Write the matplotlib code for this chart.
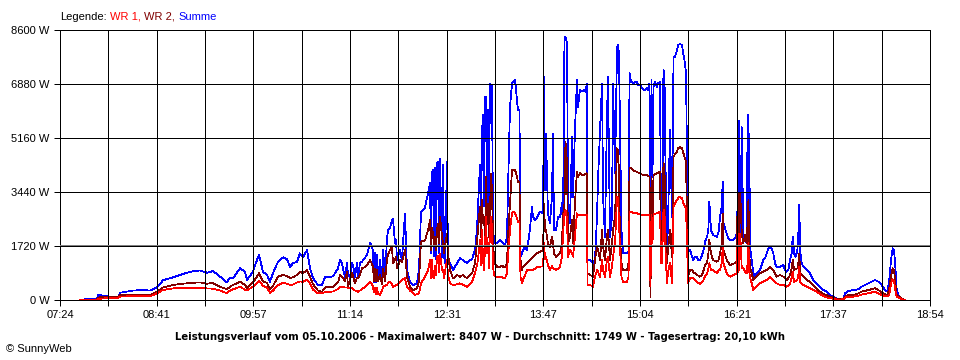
import numpy as np
import matplotlib.pyplot as plt

# time of each sample in minutes after midnight, power in W
t_min = [
    459.9, 465.4, 473.3, 474.1, 475.7, 482.1, 483.7, 490.0, 491.6, 501.9,
    509.8, 515.4, 520.9, 525.7, 533.6, 541.6, 549.5, 555.0, 560.6, 565.3,
    569.3, 572.5, 576.4, 578.8, 581.2, 586.8, 590.7, 592.3, 597.1, 598.7,
    601.8, 605.0, 608.2, 610.5, 612.9, 616.9, 620.9, 624.0, 626.4, 628.8,
    632.0, 634.3, 636.7, 639.9, 642.3, 644.7, 648.6, 651.8, 654.2, 660.5,
    664.5, 666.1, 667.7, 668.4, 670.0, 671.6, 672.4, 674.0, 675.6, 676.4,
    678.0, 679.5, 680.3, 681.9, 683.5, 685.9, 687.5, 689.9, 691.4, 692.2,
    693.0, 693.8, 694.6, 695.4, 696.2, 697.8, 699.4, 700.2, 701.8, 703.3,
    704.1, 705.7, 707.3, 708.1, 709.7, 710.5, 711.3, 713.7, 715.2, 717.6,
    719.2, 721.6, 724.0, 725.6, 727.1, 728.7, 730.3, 731.9, 733.5, 735.9,
    737.5, 738.2, 739.0, 739.8, 740.6, 741.4, 742.2, 743.0, 743.8, 744.6,
    745.4, 747.0, 747.8, 748.6, 749.3, 750.9, 751.7, 753.3, 755.7, 758.9,
    761.2, 763.6, 766.8, 769.2, 770.8, 773.1, 774.7, 775.5, 777.1, 777.9,
    778.7, 779.5, 780.3, 781.1, 781.9, 782.7, 783.5, 784.2, 785.0, 785.8,
    786.6, 787.4, 788.2, 789.0, 790.6, 793.0, 794.6, 795.4, 796.9, 798.5,
    799.3, 800.9, 802.5, 803.3, 804.9, 806.4, 807.2, 808.4, 809.2, 810.4,
    811.2, 812.8, 814.4, 815.2, 816.8, 818.3, 819.1, 820.7, 822.3, 823.1,
    824.7, 826.3, 827.1, 827.9, 828.7, 829.4, 831.0, 832.6, 834.2, 835.0,
    835.8, 837.4, 839.0, 840.6, 842.1, 842.9, 844.1, 844.9, 846.1, 846.9,
    848.5, 850.1, 850.9, 852.4, 854.0, 854.8, 856.4, 858.0, 859.6, 860.4,
    862.0, 862.4, 864.4, 866.7, 868.3, 869.9, 870.7, 872.3, 873.9, 874.7,
    876.2, 877.8, 878.6, 880.2, 881.8, 882.6, 884.2, 885.8, 886.6, 887.3,
    888.1, 889.3, 890.5, 893.7, 894.9, 895.7, 896.9, 898.5, 900.0, 901.6,
    902.4, 904.0, 905.6, 906.4, 908.0, 909.6, 910.4, 911.5, 912.3, 913.1,
    913.9, 914.7, 915.9, 917.5, 918.3, 919.9, 920.7, 921.5, 922.6, 923.4,
    924.2, 925.4, 926.2, 927.8, 929.4, 930.6, 931.8, 933.4, 934.2, 935.7,
    937.3, 938.5, 939.7, 940.5, 941.3, 942.1, 943.7, 945.3, 946.0, 947.6,
    949.2, 950.0, 951.6, 953.2, 954.4, 955.6, 957.2, 958.2, 959.0, 960.3,
    961.9, 965.1, 966.3, 967.5, 968.8, 969.6, 970.2, 972.8, 974.0, 975.4,
    978.0, 979.3, 980.7, 981.5, 982.1, 982.7, 983.5, 984.7, 985.9, 987.3,
    988.6, 989.4, 990.0, 990.7, 991.2, 992.6, 993.9, 995.2, 996.5, 999.2,
    1001.8, 1003.1, 1004.5, 1005.8, 1007.1, 1008.4, 1009.7, 1011.1, 1012.4, 1015.0,
    1017.7, 1019.0, 1020.4, 1021.6, 1023.0, 1024.3, 1025.1, 1026.2, 1027.5, 1028.8,
    1029.6, 1030.4, 1030.9, 1032.3, 1033.5, 1036.2, 1038.8, 1041.5, 1044.2, 1046.8,
    1049.4, 1052.1, 1054.7, 1057.3, 1060.0, 1062.6, 1065.3, 1066.6, 1069.2, 1073.2,
    1077.1, 1079.8, 1082.5, 1085.1, 1087.8, 1090.4, 1093.0, 1095.7, 1098.3, 1100.1,
    1101.7, 1103.1, 1104.4, 1105.5, 1106.5, 1107.6, 1108.9, 1111.6, 1114.2]

summe = [
    0, 30, 30, 160, 150, 130, 90, 90, 230, 300,
    320, 300, 400, 630, 720, 830, 920, 940, 870, 920,
    800, 690, 560, 720, 690, 1010, 900, 640, 900, 1115,
    1433, 900, 796, 584, 849, 1221, 1359, 1300, 1062, 1168,
    1221, 1486, 1360, 1592, 1009, 690, 478, 478, 722, 750,
    1009, 1274, 1168, 1009, 743, 1168, 790, 743, 1168, 1100,
    743, 1168, 700, 1168, 1220, 1350, 1433, 1826, 1700, 1550,
    580, 1500, 580, 1450, 600, 1274, 580, 1600, 740, 1911,
    2230, 2300, 2548, 2580, 1800, 1900, 1270, 1600, 1270, 2760,
    955, 584, 478, 500, 520, 955, 2813, 2850, 2950, 3408,
    3716, 1500, 4035, 4150, 1400, 4200, 1300, 4353, 4400, 1500,
    4512, 1380, 4300, 1400, 1170, 4400, 1380, 1170, 955, 1170,
    1327, 1274, 1170, 1274, 1300, 1590, 2230, 2970, 4300, 2200,
    5362, 5892, 3000, 6476, 6476, 2500, 6052, 3000, 6900, 6850,
    6850, 2500, 1805, 1805, 1805, 1911, 1830, 1805, 1752, 2017,
    3504, 6158, 6900, 6954, 7007, 6370, 6052, 6052, 1380, 1486,
    1592, 1699, 1592, 1805, 2282, 2973, 2654, 2548, 2601, 2707,
    2814, 2760, 2814, 7113, 3500, 5308, 2760, 2442, 3291, 5308,
    2230, 2230, 2654, 2654, 3079, 2230, 8281, 8387, 8175, 3291,
    2442, 5202, 3291, 5415, 7007, 6158, 6689, 6636, 6689, 6636,
    6900, 1274, 1274, 1168, 1274, 2654, 3822, 5415, 6900, 3291,
    2017, 5839, 7113, 2017, 2654, 6900, 4034, 8068, 8122, 7856,
    5627, 2230, 1486, 1486, 1540, 7240, 6954, 6900, 6954, 6954,
    6848, 6848, 6742, 6710, 6689, 6742, 6689, 6900, 1805, 7007,
    3928, 6795, 6954, 6795, 6900, 6954, 1805, 1805, 7326, 7220,
    4353, 1592, 2442, 5415, 2654, 7750, 7750, 7963, 8122, 8153,
    8122, 7803, 7538, 7220, 4353, 1592, 1592, 1380, 1274, 1380,
    1380, 1274, 1274, 1433, 1592, 1858, 2017, 2230, 3132, 2230,
    2070, 2017, 2176, 2654, 2973, 3769, 2442, 2123, 1965, 1911,
    1911, 1965, 2123, 3185, 2000, 5700, 1805, 5500, 2123, 1911,
    1805, 5900, 2000, 5300, 1699, 1274, 849, 743, 849, 955,
    1274, 1327, 1486, 1645, 1699, 1645, 1486, 1168, 1062, 1062,
    1115, 955, 902, 955, 1274, 1486, 2017, 1486, 1380, 1592,
    2123, 3026, 1592, 1168, 1062, 955, 849, 637, 531, 425,
    318, 265, 159, 106, 53, 21, 53, 212, 287, 318,
    340, 425, 478, 531, 584, 637, 584, 478, 318, 265,
    637, 1274, 1645, 1592, 1062, 318, 159, 53, 0]

wr2 = [
    0, 0, 20, 80, 85, 100, 90, 100, 150, 160,
    160, 160, 260, 400, 480, 520, 550, 560, 520, 540,
    450, 400, 340, 420, 480, 580, 480, 370, 560, 650,
    850, 600, 540, 340, 450, 740, 800, 760, 700, 720,
    800, 900, 850, 955, 740, 500, 300, 265, 400, 420,
    560, 796, 740, 700, 600, 900, 425, 650, 850, 760,
    530, 720, 700, 800, 1009, 1050, 1100, 1274, 1150, 1060,
    600, 1000, 600, 950, 600, 800, 500, 1000, 600, 1274,
    1450, 1592, 1700, 1170, 1300, 1380, 1000, 1274, 1200, 1592,
    743, 425, 318, 340, 370, 600, 1858, 1880, 1900, 2230,
    2548, 1600, 2300, 2120, 1700, 2000, 1600, 2230, 2440, 1800,
    2654, 2000, 1800, 1500, 1700, 2120, 1500, 955, 690, 796,
    743, 796, 690, 800, 850, 1170, 1800, 2230, 2972, 2000,
    3185, 2440, 2654, 1805, 3928, 2400, 3079, 2000, 2760, 4034,
    3500, 2000, 1274, 1168, 1062, 1062, 1100, 1062, 1040, 1168,
    2017, 3079, 4140, 4161, 4140, 3928, 3769, 3769, 1274, 955,
    1062, 1100, 1168, 1200, 1274, 1330, 1380, 1430, 1486, 1500,
    1539, 1560, 1592, 3079, 2200, 2230, 1800, 1699, 2017, 1800,
    1486, 1380, 1450, 1486, 1805, 2654, 3079, 5043, 4353, 1805,
    2017, 2548, 1805, 3079, 4088, 3928, 4034, 3981, 3981, 4013,
    4034, 849, 796, 743, 1274, 1699, 1592, 1274, 2230, 1699,
    1274, 2017, 2230, 1274, 1805, 2230, 2654, 4830, 4777, 4034,
    2017, 1168, 955, 955, 1168, 4225, 4200, 4140, 4100, 4088,
    4060, 4034, 4000, 3981, 3981, 3981, 3950, 3928, 106, 3928,
    2500, 3981, 4000, 4034, 4060, 4088, 1380, 1592, 4353, 4300,
    2230, 1168, 1592, 2230, 1380, 4565, 4650, 4724, 4830, 4884,
    4830, 4671, 4512, 4400, 2654, 743, 955, 955, 902, 850,
    796, 780, 743, 800, 955, 1100, 1200, 1450, 1911, 1486,
    1274, 1221, 1274, 1486, 1805, 2760, 1592, 1274, 1200, 1115,
    1147, 1180, 1221, 3397, 1500, 1911, 3397, 2123, 1805, 2070,
    1805, 2500, 3185, 1500, 1062, 849, 637, 690, 743, 849,
    902, 930, 955, 1009, 1062, 1009, 955, 850, 743, 796,
    743, 690, 637, 700, 796, 1000, 1274, 955, 980, 1009,
    1200, 1486, 849, 800, 743, 637, 584, 478, 372, 265,
    191, 159, 106, 85, 40, 21, 53, 106, 159, 159,
    212, 265, 290, 318, 350, 372, 318, 240, 191, 159,
    372, 743, 1009, 955, 531, 159, 120, 40, 0]

wr1 = [
    0, 0, 10, 40, 40, 60, 60, 70, 110, 120,
    120, 120, 210, 320, 370, 380, 380, 380, 370, 360,
    320, 280, 210, 300, 340, 420, 330, 310, 420, 480,
    620, 450, 400, 230, 300, 470, 550, 520, 480, 490,
    560, 590, 580, 640, 530, 330, 212, 210, 250, 270,
    350, 425, 420, 410, 400, 400, 380, 380, 370, 350,
    300, 280, 265, 300, 350, 420, 480, 584, 500, 420,
    250, 400, 200, 380, 200, 160, 300, 420, 450, 480,
    530, 584, 500, 420, 450, 470, 480, 560, 640, 690,
    420, 300, 212, 160, 190, 212, 530, 640, 740, 955,
    1274, 700, 1274, 743, 700, 1100, 800, 1380, 1400, 900,
    1486, 955, 955, 700, 900, 1274, 800, 530, 478, 500,
    530, 480, 420, 500, 584, 850, 1100, 1274, 1911, 1100,
    2230, 1274, 955, 1699, 2654, 1500, 1805, 1000, 2230, 2654,
    2300, 1100, 796, 760, 743, 743, 720, 700, 690, 849,
    1380, 2230, 2760, 2814, 2760, 2601, 2495, 2495, 743, 531,
    637, 800, 955, 955, 955, 960, 955, 1000, 1040, 1050,
    1060, 1070, 1083, 1805, 1300, 1380, 1100, 955, 1083, 1000,
    1000, 955, 1000, 1062, 1380, 2017, 2814, 2866, 2601, 1380,
    1592, 1500, 1380, 2017, 2760, 2707, 2707, 2707, 2707, 2707,
    2707, 478, 478, 425, 743, 955, 900, 743, 1274, 955,
    743, 1274, 1380, 743, 1062, 1380, 1805, 3291, 3238, 2500,
    1699, 743, 584, 584, 743, 2814, 2800, 2782, 2770, 2760,
    2740, 2728, 2715, 2707, 2707, 2707, 2707, 2707, 425, 2707,
    1800, 2739, 2750, 2760, 2780, 2814, 1168, 1168, 2866, 2850,
    1592, 531, 900, 1168, 531, 2973, 3080, 3185, 3240, 3291,
    3238, 3079, 2973, 2900, 1805, 531, 690, 690, 690, 640,
    584, 560, 500, 560, 637, 750, 849, 1000, 1168, 955,
    955, 849, 955, 955, 1168, 1699, 1168, 849, 800, 743,
    796, 820, 849, 2123, 900, 1062, 2123, 1009, 1009, 900,
    849, 1200, 1805, 900, 743, 531, 318, 370, 425, 531,
    584, 610, 637, 690, 743, 690, 637, 580, 531, 478,
    478, 450, 425, 450, 531, 700, 902, 584, 610, 637,
    800, 1062, 584, 520, 478, 425, 372, 318, 265, 191,
    127, 85, 60, 42, 20, 10, 30, 74, 106, 106,
    138, 170, 195, 215, 240, 265, 212, 160, 127, 127,
    159, 531, 658, 584, 318, 106, 80, 30, 0]

x_labels = ['07:24', '08:41', '09:57', '11:14', '12:31',
            '13:47', '15:04', '16:21', '17:37', '18:54']
y_ticks = [0, 1720, 3440, 5160, 6880, 8600]
t_start, t_end = 444, 1134   # 07:24 .. 18:54
avg_w = 1749

c_wr1 = '#FF0000'
c_wr2 = '#800000'
c_sum = '#0000FF'
font = 'Liberation Sans'

fig = plt.figure(figsize=(9.6, 3.6), dpi=100)
ax = fig.add_axes([60/960, 60/360, 870/960, 270/360])

lw = 0.72  # one pixel at 100 dpi
data_lw = 0.55
ax.plot(t_min, summe, color=c_sum, lw=data_lw, antialiased=False, zorder=2)
ax.plot(t_min, wr2, color=c_wr2, lw=data_lw, antialiased=False, zorder=2)
ax.plot(t_min, wr1, color=c_wr1, lw=data_lw, antialiased=False, zorder=2)
ax.axhline(avg_w, color='#808080', lw=lw, zorder=3)

ax.set_xlim(t_start, t_end)
ax.set_ylim(0, 8600)

ax.set_xticks(np.linspace(t_start, t_end, len(x_labels)), x_labels)
ax.set_xticks(np.linspace(t_start, t_end, 2*len(x_labels) - 1), minor=True)
ax.set_yticks(y_ticks, [f'{v} W' for v in y_ticks])

ax.set_axisbelow(False)
ax.grid(which='both', color='black', lw=lw)
ax.tick_params(which='both', direction='out', length=4, width=lw,
               color='black', labelsize=8, pad=3.5)
for lab in ax.get_xticklabels() + ax.get_yticklabels():
    lab.set_family(font)
for sp in ax.spines.values():
    sp.set_linewidth(lw)
    sp.set_color('black')

# legend line at the top
prev = fig.text(60/960, 1 - 16.5/360, 'Legende:', family=font, fontsize=8,
                va='center', ha='left', color='black')
for s, c in [('WR 1,', c_wr1), ('WR 2,', c_wr2), ('Summe', c_sum)]:
    prev = ax.annotate(s, xy=(1, 0), xycoords=prev, xytext=(2.5, 0),
                       textcoords='offset points', va='bottom', ha='left',
                       family=font, fontsize=8, color=c)

fig.text(480/960, 1 - 337/360,
         'Leistungsverlauf vom 05.10.2006 - Maximalwert: 8407 W - '
         'Durchschnitt: 1749 W - Tagesertrag: 20,10 kWh',
         family='DejaVu Sans', fontweight='bold', fontsize=7.25,
         ha='center', va='center')
fig.text(6/960, 1 - 348.5/360, '\u00a9 SunnyWeb', family=font, fontsize=8,
         ha='left', va='center')

fig.savefig('out.png', dpi=100)
